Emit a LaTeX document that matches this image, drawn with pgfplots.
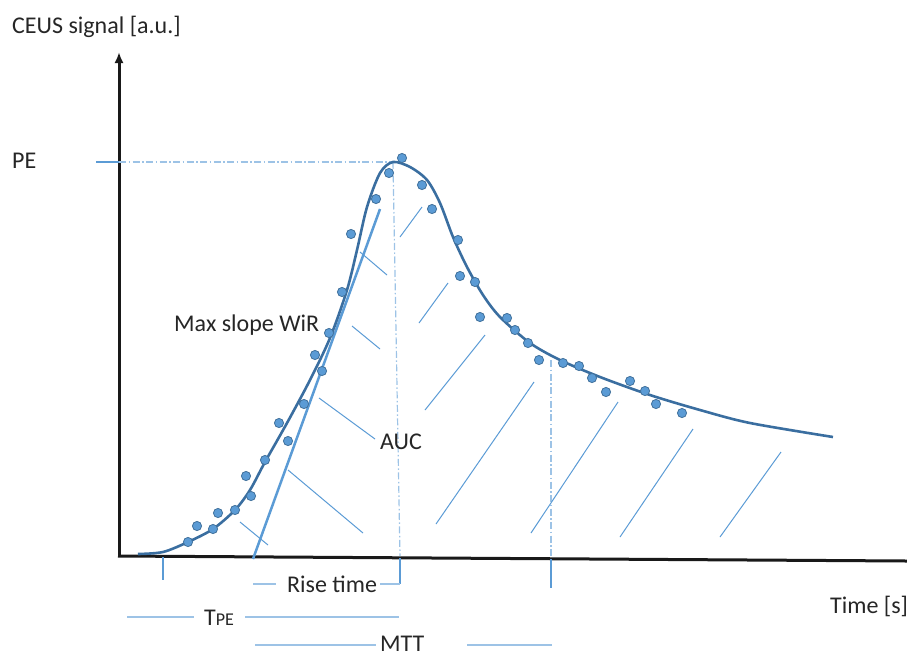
\documentclass[border=0pt]{standalone}
\usepackage{pgfplots}
\pgfplotsset{compat=1.18}
\usepackage{fontspec}
\setmainfont{Carlito}
\usetikzlibrary{arrows.meta}
\definecolor{curve}{HTML}{3A6EA0}
\definecolor{dotfill}{HTML}{5B9BD5}
\definecolor{dotedge}{HTML}{41719C}
\definecolor{hatch}{HTML}{5B9BD5}
\definecolor{guide}{HTML}{9DC3E6}
\definecolor{txt}{HTML}{262626}
\tikzset{dd/.style={guide, line width=1.2pt, dash pattern=on 7pt off 2.5pt on 1.5pt off 2.5pt}}

\begin{document}
\begin{tikzpicture}
  \begin{axis}[
    scale only axis, width=907pt, height=657pt,
    xmin=0, xmax=907, ymin=0, ymax=657, y dir=reverse,
    hide axis, clip=false,
  ]
    % axes
    \addplot[black!90, line width=3pt, -{Latex[length=11pt,width=9pt]}] coordinates {(119,556) (119,52)};
    \addplot[black!90, line width=3pt] coordinates {(118,556) (907,561)};
    % PE guide
    \addplot[dotfill, line width=2pt] coordinates {(96,162) (119,162)};
    \addplot[dd] coordinates {(119,162) (393,162)};
    \addplot[dd] coordinates {(393,162) (400,556)};
    \addplot[dd] coordinates {(551,360) (551,556)};
    % ticks under the time axis
    \addplot[dotfill, line width=2pt] coordinates {(163,557) (163,580)};
    \addplot[dotfill, line width=2pt] coordinates {(400,558) (400,584)};
    \addplot[dotfill, line width=2pt] coordinates {(551,559) (551,588)};
    % interval lines
    \addplot[guide, line width=1.5pt] coordinates {(253,584) (276,584)};
    \addplot[guide, line width=1.5pt] coordinates {(380,584) (400,584)};
    \addplot[guide, line width=1.5pt] coordinates {(127,617) (194,617)};
    \addplot[guide, line width=1.5pt] coordinates {(245,617) (399,617)};
    \addplot[guide, line width=1.5pt] coordinates {(255,645) (376,645)};
    \addplot[guide, line width=1.5pt] coordinates {(467,645) (552,645)};
    % AUC hatching
    \addplot[hatch, line width=1pt] coordinates {(240,522) (268,545)};
    \addplot[hatch, line width=1pt] coordinates {(288,470) (363,533)};
    \addplot[hatch, line width=1pt] coordinates {(319,398) (375,439)};
    \addplot[hatch, line width=1pt] coordinates {(352,326) (380,349)};
    \addplot[hatch, line width=1pt] coordinates {(360,252) (387,275)};
    \addplot[hatch, line width=1pt] coordinates {(400,237) (422,207)};
    \addplot[hatch, line width=1pt] coordinates {(419,323) (448,283)};
    \addplot[hatch, line width=1pt] coordinates {(425,410) (485,335)};
    \addplot[hatch, line width=1pt] coordinates {(436,524) (534,382)};
    \addplot[hatch, line width=1pt] coordinates {(531,533) (618,402)};
    \addplot[hatch, line width=1pt] coordinates {(620,537) (693,429)};
    \addplot[hatch, line width=1pt] coordinates {(720,537) (781,452)};
    % max slope tangent
    \addplot[dotfill, line width=2.5pt] coordinates {(253,559) (380,209)};
    % fitted curve
    \addplot[curve, line width=2.6pt, smooth, tension=0.5] coordinates {
      (138,554) (163,552) (188,542) (213,529) (235,510) (250,490)
      (265,462) (287,423) (310,380) (330,338) (347,290) (357,250)
      (367,207) (380,173) (393,162) (410,167) (427,180) (440,203)
      (453,237) (467,267) (483,295) (500,317) (530,343) (560,360)
      (600,377) (650,395) (700,410) (750,423) (833,437)
    };
    % measured samples
    \addplot[only marks, mark=*, mark size=4.6pt,
      mark options={fill=dotfill, draw=dotedge, line width=0.8pt}] coordinates {
      (188,542) (197,526) (213,529) (218,513) (235,510) (246,476)
      (251,496) (265,460) (279,423) (288,441) (304,404) (315,355)
      (322,371) (329,333) (342,292) (351,234) (376,199) (389,173)
      (402,158) (422,185) (432,209) (458,240) (460,276) (475,282)
      (480,317) (507,318) (515,330) (528,343) (539,360) (563,363)
      (579,366) (592,378) (606,392) (630,381) (645,391) (656,404)
      (682,413)
    };
    % labels
    \begin{scope}[every node/.style={font=\fontsize{24}{28}\selectfont, text=txt, inner sep=0pt}]
      \node[anchor=base west] at (axis cs:12,33) {CEUS signal [a.u.]};
      \node[anchor=base west] at (axis cs:12,168) {PE};
      \node[anchor=base west] at (axis cs:174,331) {Max slope WiR};
      \node[anchor=base west] at (axis cs:380,449) {AUC};
      \node[anchor=base west] at (axis cs:287,592) {Rise time};
      \node[anchor=base west] at (axis cs:204,625) {T{\fontsize{18}{20}\selectfont PE}};
      \node[anchor=base west] at (axis cs:380,651) {MTT};
      \node[anchor=base west] at (axis cs:830,613) {Time [s]};
    \end{scope}
  \end{axis}
  \pgfresetboundingbox
  \path[use as bounding box] (current axis.south west) rectangle (current axis.north east);
\end{tikzpicture}
\end{document}
